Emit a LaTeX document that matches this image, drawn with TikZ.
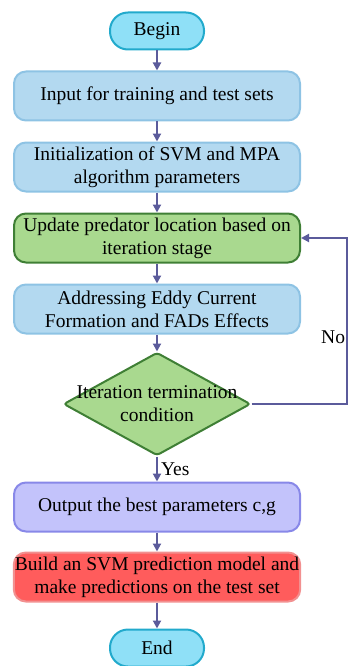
\documentclass[tikz,border=0pt]{standalone}
\usepackage{fontspec}
\setmainfont{Liberation Serif}
\usepackage{tikz}
\usetikzlibrary{arrows.meta,positioning,shapes.geometric}

\definecolor{flowline}{HTML}{5B5B9B}
\definecolor{termfill}{HTML}{8FE0F7}
\definecolor{termdraw}{HTML}{22AACC}
\definecolor{bluefill}{HTML}{B3D9F0}
\definecolor{bluedraw}{HTML}{8EC3E4}
\definecolor{greenfill}{HTML}{A9D98F}
\definecolor{greendraw}{HTML}{3F7F35}
\definecolor{violetfill}{HTML}{C3C3FB}
\definecolor{violetdraw}{HTML}{8888E8}
\definecolor{redfill}{HTML}{FF5C5C}
\definecolor{reddraw}{HTML}{F29090}

\begin{document}
\begin{tikzpicture}[
  x=1pt, y=1pt,
  node distance=20pt,
  >={Triangle[width=8pt,length=8pt]},
  every node/.style={font=\fontsize{19.5}{23}\selectfont},
  terminal/.style={rectangle, rounded corners=18pt, draw=termdraw, fill=termfill, line width=2pt, minimum width=94pt, minimum height=37pt, inner sep=1pt},
  box/.style={rectangle, rounded corners=12pt, draw=bluedraw, fill=bluefill, line width=2pt, align=center, minimum width=286pt, minimum height=49pt, inner sep=1pt},
  greenbox/.style={box, draw=greendraw, fill=greenfill},
  violetbox/.style={box, draw=violetdraw, fill=violetfill},
  redbox/.style={box, draw=reddraw, fill=redfill},
  decision/.style={diamond, draw=greendraw, fill=greenfill, line width=2pt, rounded corners=3pt, minimum width=187pt, minimum height=103pt, inner sep=0pt},
  flow/.style={->, draw=flowline, line width=2pt}
]
\useasboundingbox (0,0) rectangle (348,-666);

\node[terminal] (begin) at (157,-31) {Begin};
\node[box, below=20pt of begin] (input) {Input for training and test sets};
\node[box, below=of input] (init) {Initialization of SVM and MPA\\algorithm parameters};
\node[greenbox, below=of init] (update) {Update predator location based on\\iteration stage};
\node[box, below=of update] (eddy) {Addressing Eddy Current\\Formation and FADs Effects};
\node[decision, below=17pt of eddy, label={[align=center]center:Iteration termination\\condition}] (cond) {};
\node[violetbox, below=25pt of cond] (best) {Output the best parameters c,g};
\node[redbox, below=19pt of best] (svm) {Build an SVM prediction model and\\make predictions on the test set};
\node[terminal, below=26pt of svm] (end) {End};

\coordinate (loopx) at (347,0);

\draw[flow] (begin) -- (input);
\draw[flow] (input) -- (init);
\draw[flow] (init) -- (update);
\draw[flow] (update) -- (eddy);
\draw[flow] (eddy) -- (cond);
\draw[flow] (cond) -- node[right, inner sep=3pt]{Yes} (best);
\draw[flow] (best) -- (svm);
\draw[flow] (svm) -- (end);
\draw[flow] (cond.east) -| node[pos=0.7, left, inner sep=1pt]{No} (loopx |- update.east) -- (update.east);
\end{tikzpicture}
\end{document}
